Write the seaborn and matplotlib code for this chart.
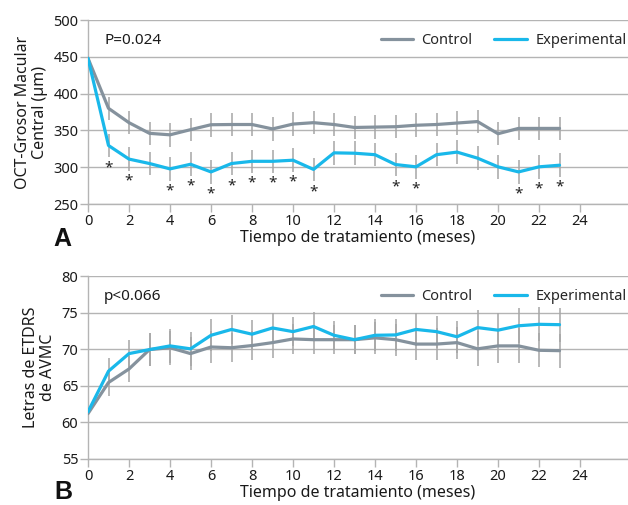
import numpy as np
import pandas as pd
import matplotlib
matplotlib.use("Agg")
import matplotlib.pyplot as plt
import seaborn as sns
from matplotlib.lines import Line2D

months = list(range(24))

# Panel A: OCT central macular thickness (µm)
a_control = [448, 380, 360.5, 346, 344, 351, 357.7, 358, 358, 352, 358.6, 360.5,
             358, 354, 354.5, 355, 357, 358, 360, 362, 345.5, 352.7, 352.7, 352.7]
a_exp = [448, 329.5, 311, 305, 297.7, 304, 293.6, 305, 308, 308, 309.5, 297,
         319.5, 319, 317, 303.6, 300.5, 317, 320.5, 312.3, 300.5, 293.6, 300.5, 302.7]
a_err = [0, 16, 16, 16, 16, 16, 16, 16, 16, 16, 16, 16,
         16, 16, 16, 16, 16, 16, 16, 16, 16, 16, 16, 16]
a_sig_months = [1, 2, 4, 5, 6, 7, 8, 9, 10, 11, 15, 16, 21, 22, 23]

# Panel B: ETDRS letters (AVMC)
b_control = [61.2, 65.45, 67.3, 69.95, 70.2, 69.4, 70.3, 70.2, 70.5, 70.9, 71.4, 71.3,
             71.3, 71.3, 71.55, 71.3, 70.7, 70.7, 70.9, 70.05, 70.45, 70.45, 69.85, 69.8]
b_exp = [61.45, 67.0, 69.4, 69.95, 70.45, 70.05, 71.9, 72.7, 72.05, 72.9, 72.4, 73.1,
         71.9, 71.3, 71.9, 71.95, 72.7, 72.4, 71.7, 72.95, 72.6, 73.2, 73.4, 73.35]
b_err = [0, 1.8, 1.8, 2.3, 2.3, 2.3, 2.2, 2.0, 2.0, 2.1, 2.0, 2.0,
         2.0, 2.0, 2.2, 2.2, 2.2, 2.2, 2.2, 2.4, 2.3, 2.4, 2.3, 2.3]

x_ticks = list(range(0, 25, 2))
a_yticks = [250, 300, 350, 400, 450, 500]
b_yticks = [55, 60, 65, 70, 75, 80]

C_CTRL = "#85929d"
C_EXP = "#19b8ea"
C_GRID = "#b4b4b4"

sns.set_style("white")
plt.rcParams["font.family"] = ["Noto Sans", "DejaVu Sans"]

fig = plt.figure(figsize=(6.28, 5.05), dpi=100)
axA = fig.add_axes([88/628, 1-204/505, 540/628, 184/505])
axB = fig.add_axes([88/628, 1-459/505, 540/628, 183/505])


def draw(ax, ctrl, exp, err, yticks, ylabel, ptxt):
    df = pd.DataFrame({
        "mes": months * 2,
        "valor": ctrl + exp,
        "grupo": ["Control"] * len(months) + ["Experimental"] * len(months),
    })
    for vals in (ctrl, exp):
        ax.errorbar(months, vals, yerr=err, fmt="none", ecolor="#a6a6a6",
                    elinewidth=1.1, capsize=0, zorder=2)
    sns.lineplot(data=df, x="mes", y="valor", hue="grupo",
                 palette={"Control": C_CTRL, "Experimental": C_EXP},
                 linewidth=2.3, ax=ax, legend=False, zorder=3)
    ax.set_xlim(0, 26.34)
    ax.set_ylim(yticks[0], yticks[-1])
    ax.set_yticks(yticks)
    ax.set_xticks(x_ticks)
    ax.yaxis.grid(True, color=C_GRID, linewidth=1.0)
    ax.xaxis.grid(False)
    for s in ("top", "right"):
        ax.spines[s].set_visible(False)
    for s in ("left", "bottom"):
        ax.spines[s].set_color(C_GRID)
        ax.spines[s].set_linewidth(1.0)
    ax.tick_params(axis="both", which="both", length=5.5, width=1.0,
                   color=C_GRID, labelsize=10.5, labelcolor="#1a1a1a", pad=1.5)
    ax.tick_params(axis="x", direction="out", bottom=True)
    ax.tick_params(axis="y", direction="out", left=True)
    ax.set_xlabel("Tiempo de tratamiento (meses)", fontsize=11.5,
                  color="#1a1a1a", labelpad=1)
    ax.set_ylabel(ylabel, fontsize=11.5, color="#1a1a1a", labelpad=4,
                  linespacing=1.05)
    ax.text(0.03, 0.89, ptxt, transform=ax.transAxes, fontsize=11,
            color="#1a1a1a", va="center", ha="left")
    handles = [Line2D([], [], color=C_CTRL, lw=2.3),
               Line2D([], [], color=C_EXP, lw=2.3)]
    ax.legend(handles, ["Control", "Experimental"], ncol=2, frameon=False,
              loc="center right", bbox_to_anchor=(1.0, 0.89), fontsize=10.5,
              handlelength=2.2, columnspacing=1.5, handletextpad=0.6,
              borderaxespad=0.0, borderpad=0.1)


draw(axA, a_control, a_exp, a_err, a_yticks,
     "OCT-Grosor Macular\nCentral (µm)", "P=0.024")
draw(axB, b_control, b_exp, b_err, b_yticks,
     "Letras de ETDRS\nde AVMC", "p<0.066")

# significance asterisks below experimental series
for m in a_sig_months:
    axA.text(m, a_exp[m] - 30, "*", ha="center", va="center",
             fontsize=11, color="#222222")

for lbl, xp, yp in (("A", 53, 239), ("B", 54, 492)):
    fig.text(xp/628, 1-yp/505, lbl, fontsize=18, fontweight="bold",
             family=["Liberation Sans", "DejaVu Sans"],
             ha="left", va="center", color="#111111")

fig.savefig("out.png", dpi=100)
